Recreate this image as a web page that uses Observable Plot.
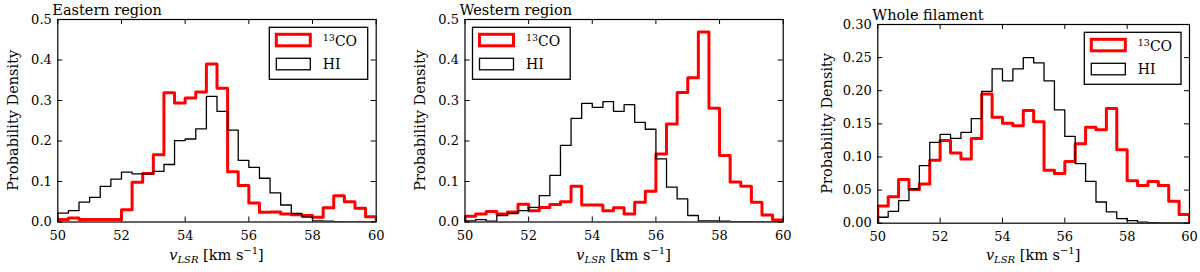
<!DOCTYPE html>
<html>
<head>
<meta charset="utf-8">
<script src="https://cdn.jsdelivr.net/npm/d3@7"></script>
<script src="https://cdn.jsdelivr.net/npm/@observablehq/plot@0.6"></script>
<style>
  html, body { margin: 0; padding: 0; background: #fff; }
  #wrap { position: relative; width: 1200px; height: 272px; overflow: hidden; }
  #wrap > div { position: absolute; top: 0; }
  svg { color: #000; }
</style>
</head>
<body>
<div id="wrap"><div id="p1" style="left:0px"></div><div id="p2" style="left:400px"></div><div id="p3" style="left:800px"></div></div>
<script>
// ---- data ----
const binStart = 50, binWidth = 1 / 3, binCount = 30;
const xTicks = [50, 52, 54, 56, 58, 60];
const yTicksA = [0, 0.1, 0.2, 0.3, 0.4, 0.5];
const yTicksB = [0, 0.05, 0.10, 0.15, 0.20, 0.25, 0.30];
const seriesNames = ["13CO", "HI"];
const titles = ["Eastern region", "Western region", "Whole filament"];

const eastCO = [0.006,0.010,0.006,0.006,0.006,0.006,0.030,0.098,0.120,0.166,0.319,0.294,0.306,0.321,0.390,0.330,0.124,0.090,0.047,0.024,0.025,0.020,0.018,0.016,0.012,0.035,0.065,0.050,0.034,0.013];
const eastHI = [0.022,0.028,0.049,0.061,0.088,0.106,0.123,0.119,0.119,0.125,0.142,0.201,0.205,0.230,0.310,0.273,0.227,0.152,0.135,0.108,0.072,0.042,0.021,0.012,0.003,0.002,0.001,0.0005,0.0005,0.0005];
const westCO = [0.014,0.020,0.026,0.020,0.025,0.044,0.028,0.036,0.043,0.050,0.088,0.042,0.042,0.028,0.035,0.020,0.049,0.076,0.168,0.242,0.320,0.356,0.469,0.281,0.164,0.099,0.088,0.049,0.017,0.005];
const westHI = [0.003,0.006,0.002,0.016,0.021,0.028,0.036,0.065,0.115,0.189,0.256,0.293,0.283,0.297,0.273,0.290,0.246,0.229,0.156,0.086,0.057,0.016,0.003,0.003,0.002,0.001,0.001,0.0005,0.0005,0.0003];
const wholeCO = [0.026,0.040,0.066,0.051,0.059,0.095,0.125,0.106,0.097,0.128,0.195,0.160,0.151,0.147,0.170,0.153,0.080,0.075,0.093,0.120,0.145,0.141,0.173,0.111,0.064,0.057,0.063,0.057,0.033,0.013];
const wholeHI = [0.009,0.018,0.034,0.052,0.087,0.122,0.134,0.128,0.137,0.158,0.199,0.233,0.215,0.233,0.250,0.242,0.215,0.171,0.131,0.090,0.063,0.032,0.017,0.007,0.004,0.0015,0.001,0.0005,0.0005,0.0005];

// ---- helpers ----
const FONT = "'DejaVu Serif', 'Liberation Serif', serif";
const RED = "#ff0000";

function stepData(vals) {
  const pts = [{x: binStart, y: 0}];
  vals.forEach((v, i) => pts.push({x: binStart + i * binWidth, y: v}));
  const end = binStart + binCount * binWidth;
  pts.push({x: end, y: vals[vals.length - 1]});
  pts.push({x: end, y: 0});
  return pts;
}

function panel(el, o) {
  const W = 400, H = 272;
  const pw = W - o.ml - o.mr, ph = H - o.mt - o.mb;
  const tk = 5;
  const svg = Plot.plot({
    width: W, height: H,
    marginLeft: o.ml, marginRight: o.mr, marginTop: o.mt, marginBottom: o.mb,
    style: {fontFamily: FONT, fontSize: "13px", color: "#000", background: "#fff"},
    x: {domain: [50, 60], axis: null},
    y: {domain: [0, o.ymax], axis: null},
    marks: [
      Plot.line(stepData(o.co), {x: "x", y: "y", curve: "step-after", stroke: RED, strokeWidth: 3, clip: true}),
      Plot.line(stepData(o.hi), {x: "x", y: "y", curve: "step-after", stroke: "#000", strokeWidth: 1.3, clip: true}),
      Plot.frame({stroke: "#000", strokeWidth: 1.2}),
      Plot.ruleX(xTicks, {x: d => d, stroke: "#000", strokeWidth: 1, insetTop: ph - tk}),
      Plot.ruleX(xTicks, {x: d => d, stroke: "#000", strokeWidth: 1, insetBottom: ph - tk}),
      Plot.ruleY(o.yticks, {y: d => d, stroke: "#000", strokeWidth: 1, insetRight: pw - tk}),
      Plot.ruleY(o.yticks, {y: d => d, stroke: "#000", strokeWidth: 1, insetLeft: pw - tk}),
      Plot.axisX(xTicks, {anchor: "bottom", label: null, tickSize: 0, tickPadding: 9, tickFormat: d => String(d), fontSize: 13, fontFamily: FONT, fill: "#000"}),
      Plot.axisY(o.yticks, {anchor: "left", label: null, tickSize: 0, tickPadding: 6, tickFormat: d3.format(o.yfmt), fontSize: 13, fontFamily: FONT, fill: "#000"})
    ]
  });
  const s = d3.select(svg);
  const txt = (sel) => sel.attr("font-family", FONT).attr("fill", "#000");
  // title
  txt(s.append("text")).attr("x", o.ml - 5).attr("y", o.titleY)
    .attr("text-anchor", "start").attr("font-size", 14.5)
    .text(o.title);
  // y label
  txt(s.append("text")).attr("transform", `translate(${o.ylx},${o.mt + ph / 2}) rotate(-90)`)
    .attr("text-anchor", "middle").attr("dy", "0.35em").attr("font-size", 14.5)
    .text("Probability Density");
  // x label
  const xl = txt(s.append("text")).attr("x", o.ml + pw / 2).attr("y", 260)
    .attr("text-anchor", "middle").attr("font-size", 14.5);
  xl.append("tspan").attr("font-style", "italic").text("v");
  xl.append("tspan").attr("font-style", "italic").attr("font-size", 10).attr("dy", 3).text("LSR");
  xl.append("tspan").attr("dy", -3).text(" [km s");
  xl.append("tspan").attr("font-size", 10).attr("dy", -6).text("\u22121");
  xl.append("tspan").attr("dy", 6).text("]");
  // legend
  const bw = o.lw, bh = 52;
  const bx = o.legendLeft ? o.ml + 8 : o.ml + pw - 8 - bw;
  const by = o.mt + 8.3;
  const g = s.append("g");
  g.append("rect").attr("x", bx).attr("y", by).attr("width", bw).attr("height", bh)
    .attr("fill", "#fff").attr("stroke", "#000").attr("stroke-width", 1.3);
  g.append("rect").attr("x", bx + 7).attr("y", by + 7).attr("width", 34).attr("height", 11.5)
    .attr("fill", "none").attr("stroke", RED).attr("stroke-width", 3);
  g.append("rect").attr("x", bx + 7).attr("y", by + 31).attr("width", 34).attr("height", 11.5)
    .attr("fill", "none").attr("stroke", "#000").attr("stroke-width", 1.3);
  const t1 = txt(g.append("text")).attr("x", bx + 53.5).attr("y", by + 19)
    .attr("text-anchor", "start").attr("font-size", 14);
  t1.append("tspan").attr("font-size", 9.5).attr("dy", -5).text(seriesNames[0].slice(0, 2));
  t1.append("tspan").attr("dy", 5).text(seriesNames[0].slice(2));
  txt(g.append("text")).attr("x", bx + 53.5).attr("y", by + 42)
    .attr("text-anchor", "start").attr("font-size", 14).text(seriesNames[1]);
  document.getElementById(el).appendChild(svg);
}

panel("p1", {co: eastCO, hi: eastHI, ymax: 0.5, yticks: yTicksA, yfmt: ".1f", title: titles[0],
  ml: 57.3, mr: 24.3, mt: 19, mb: 50.5, titleY: 14.5, ylx: 13.3, legendLeft: false, lw: 98.4});
panel("p2", {co: westCO, hi: westHI, ymax: 0.5, yticks: yTicksA, yfmt: ".1f", title: titles[1],
  ml: 64.5, mr: 17.3, mt: 19, mb: 50.5, titleY: 14.5, ylx: 20, legendLeft: true, lw: 97.7});
panel("p3", {co: wholeCO, hi: wholeHI, ymax: 0.3, yticks: yTicksB, yfmt: ".2f", title: titles[2],
  ml: 77.3, mr: 11, mt: 24, mb: 49.3, titleY: 19.5, ylx: 26.7, legendLeft: false, lw: 96.7});
</script>
</body>
</html>
